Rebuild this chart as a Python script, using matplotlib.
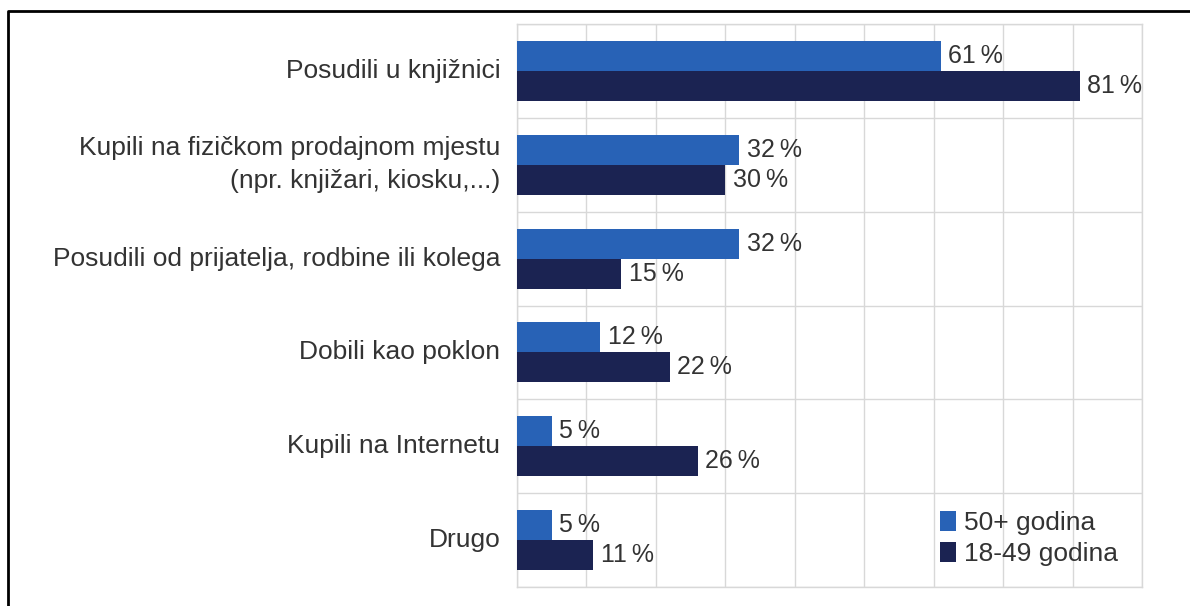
import matplotlib
matplotlib.use("Agg")
import matplotlib.pyplot as plt
from matplotlib.lines import Line2D
from matplotlib.patches import Patch

categories = [
    "Posudili u knjižnici",
    "Kupili na fizičkom prodajnom mjestu\n(npr. knjižari, kiosku,...)",
    "Posudili od prijatelja, rodbine ili kolega",
    "Dobili kao poklon",
    "Kupili na Internetu",
    "Drugo",
]
series_names = ["50+ godina", "18-49 godina"]
values_50plus = [61, 32, 32, 12, 5, 5]
values_18_49 = [81, 30, 15, 22, 26, 11]

c_blue = "#2862b6"
c_dark = "#1b2352"
grid_c = "#d8d8d8"
text_c = "#333333"

fig = plt.figure(figsize=(11.9, 6.06), dpi=100)
ax = fig.add_axes([517/1190, 1-587/606, (1142-517)/1190, (587-24)/606])

bh = 0.32
for i, (a, b) in enumerate(zip(values_50plus, values_18_49)):
    c = i + 0.5
    ax.barh(c - bh/2, a, height=bh, color=c_blue, zorder=3)
    ax.barh(c + bh/2, b, height=bh, color=c_dark, zorder=3)
    for v, y in ((a, c - bh/2), (b, c + bh/2)):
        ax.annotate(f"{v}\u2009%", xy=(v, y), xytext=(5.5, 0), textcoords="offset points",
                    ha="left", va="center", fontsize=18, color=text_c,
                    family=["Liberation Sans", "DejaVu Sans"])
    ax.annotate(categories[i], xy=(0, c), xycoords=("axes fraction", "data"),
                xytext=(-12, 0), textcoords="offset points", ha="right", va="center",
                multialignment="right", fontsize=19, color=text_c, linespacing=1.45,
                family=["Liberation Sans", "DejaVu Sans"])

ax.set_xlim(0, 90)
ax.set_ylim(6, 0)
ax.set_xticks(range(0, 91, 10))
ax.set_yticks(range(0, 7))
ax.tick_params(length=0, labelbottom=False, labelleft=False)
ax.grid(True, color=grid_c, linewidth=1, zorder=0)
ax.set_axisbelow(True)
for s in ax.spines.values():
    s.set_color(grid_c)
    s.set_linewidth(1)

handles = [Patch(facecolor=c_blue, edgecolor="none"), Patch(facecolor=c_dark, edgecolor="none")]
leg = ax.legend(handles, series_names, loc="lower left", bbox_to_anchor=(0.66, 0.018),
                frameon=False, handlelength=0.6, handleheight=0.8, handletextpad=0.3,
                labelspacing=0.25, borderaxespad=0,
                prop={"family": ["Liberation Sans", "DejaVu Sans"], "size": 19})
for t in leg.get_texts():
    t.set_color(text_c)

# outer frame (black, extends past right and bottom edges)
fig.add_artist(Line2D([8/1190, 8/1190, 1.01], [-0.01, 1-11/606, 1-11/606],
                      transform=fig.transFigure, color="black", linewidth=2))

fig.savefig("out.png", dpi=100, facecolor="white")
